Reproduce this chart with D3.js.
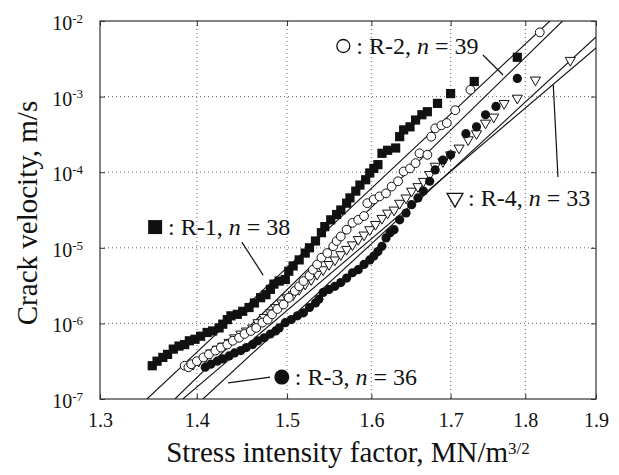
<!DOCTYPE html>
<html>
<head>
<meta charset="utf-8">
<script src="https://cdn.jsdelivr.net/npm/d3@7"></script>
<style>
body { margin: 0; background: #fff; }
text { font-family: "Liberation Serif", "Times New Roman", serif; fill: #111; }
</style>
</head>
<body>
<div class="featured"></div>
<script>
// stress intensity factor K (MN/m^3/2) and log10 of crack velocity (m/s)
var r1K = [1.353,1.358,1.364,1.369,1.375,1.381,1.387,1.392,1.398,1.404,1.411,1.417,1.424,1.428,1.433,1.437,1.444,1.450,1.457,1.463,1.470,1.476,1.481,1.485,1.491,1.498,1.502,1.507,1.514,1.521,1.526,1.533,1.540,1.544,1.551,1.558,1.563,1.570,1.574,1.581,1.586,1.593,1.598,1.603,1.608,1.613,1.620,1.630,1.635,1.640,1.648,1.655,1.663,1.670,1.683,1.700,1.731,1.789];
var r1LogV = [-6.56,-6.50,-6.45,-6.41,-6.34,-6.30,-6.28,-6.23,-6.21,-6.17,-6.12,-6.10,-6.06,-6.01,-5.95,-5.90,-5.88,-5.84,-5.79,-5.73,-5.66,-5.62,-5.55,-5.48,-5.44,-5.42,-5.31,-5.24,-5.16,-5.07,-5.00,-4.91,-4.80,-4.72,-4.63,-4.56,-4.50,-4.41,-4.34,-4.25,-4.17,-4.10,-4.01,-3.95,-3.90,-3.75,-3.71,-3.68,-3.53,-3.44,-3.40,-3.31,-3.24,-3.20,-3.09,-2.96,-2.80,-2.48];

var r2K = [1.387,1.391,1.394,1.400,1.407,1.413,1.420,1.426,1.433,1.439,1.446,1.452,1.459,1.465,1.472,1.478,1.483,1.489,1.496,1.502,1.509,1.514,1.519,1.526,1.530,1.535,1.540,1.547,1.554,1.558,1.563,1.570,1.577,1.584,1.591,1.595,1.603,1.610,1.618,1.625,1.633,1.640,1.648,1.655,1.660,1.670,1.675,1.680,1.688,1.695,1.706,1.726,1.820];
var r2LogV = [-6.56,-6.58,-6.54,-6.50,-6.45,-6.41,-6.36,-6.32,-6.28,-6.23,-6.19,-6.14,-6.10,-6.06,-5.99,-5.95,-5.88,-5.81,-5.75,-5.66,-5.57,-5.51,-5.44,-5.37,-5.29,-5.22,-5.13,-5.07,-4.98,-4.91,-4.85,-4.76,-4.67,-4.63,-4.58,-4.41,-4.36,-4.32,-4.28,-4.19,-4.12,-3.99,-3.95,-3.88,-3.75,-3.77,-3.53,-3.42,-3.38,-3.35,-3.18,-2.91,-2.15];

var r3K = [1.409,1.415,1.422,1.428,1.435,1.441,1.448,1.454,1.461,1.467,1.474,1.481,1.487,1.491,1.498,1.505,1.512,1.519,1.526,1.533,1.537,1.542,1.549,1.556,1.563,1.570,1.577,1.584,1.591,1.598,1.603,1.608,1.613,1.618,1.623,1.628,1.635,1.643,1.650,1.658,1.665,1.673,1.680,1.690,1.700,1.720,1.734,1.746,1.760,1.789];
var r3LogV = [-6.58,-6.54,-6.50,-6.47,-6.43,-6.39,-6.36,-6.32,-6.28,-6.23,-6.19,-6.14,-6.10,-6.06,-5.99,-5.95,-5.90,-5.86,-5.79,-5.73,-5.68,-5.59,-5.55,-5.51,-5.46,-5.40,-5.33,-5.29,-5.22,-5.16,-5.11,-5.05,-4.98,-4.87,-4.80,-4.76,-4.63,-4.54,-4.43,-4.34,-4.25,-4.12,-3.97,-3.84,-3.77,-3.49,-3.40,-3.24,-3.13,-2.76];

var r4K = [1.391,1.396,1.402,1.409,1.415,1.422,1.428,1.435,1.441,1.448,1.454,1.461,1.467,1.474,1.481,1.487,1.494,1.500,1.507,1.514,1.521,1.528,1.535,1.542,1.549,1.556,1.563,1.570,1.577,1.584,1.591,1.598,1.605,1.613,1.620,1.628,1.635,1.643,1.650,1.658,1.665,1.673,1.680,1.690,1.700,1.711,1.723,1.734,1.746,1.757,1.771,1.789,1.814,1.863];
var r4LogV = [-6.56,-6.54,-6.50,-6.45,-6.39,-6.34,-6.30,-6.25,-6.19,-6.14,-6.10,-6.06,-5.99,-5.92,-5.86,-5.79,-5.73,-5.66,-5.62,-5.55,-5.48,-5.42,-5.35,-5.29,-5.22,-5.16,-5.09,-5.02,-4.96,-4.89,-4.83,-4.76,-4.69,-4.61,-4.54,-4.50,-4.41,-4.34,-4.25,-4.19,-4.12,-4.03,-3.92,-3.86,-3.77,-3.68,-3.57,-3.49,-3.35,-3.27,-3.09,-3.02,-2.78,-2.52];

// fitted power-law lines: end points (K, v)
var fitNames  = ["R-1", "R-2", "R-3", "R-4"];
var fitN      = [38, 39, 36, 33];
var fitStartK = [1.3476, 1.3767, 1.4065, 1.3851];
var fitStartV = [1e-7, 1e-7, 1e-7, 1e-7];
var fitEndK   = [1.834, 1.852, 1.9, 1.9];
var fitEndV   = [1e-2, 1e-2, 6.14e-3, 4.39e-3];

// annotation anchors (data coords) and leader lines
var noteK  = [1.356, 1.566, 1.494, 1.7057];
var noteV  = [1.88e-5, 4.67e-3, 1.95e-7, 4.56e-5];
var leadK1 = [1.449, 1.7425, 1.4338, 1.8455];
var leadV1 = [1.19e-5, 3.55e-3, 1.63e-7, 8.64e-5];
var leadK2 = [1.4728, 1.7696, 1.4807, 1.8389];
var leadV2 = [4.36e-6, 1.93e-3, 1.95e-7, 1.42e-3];

var xTicks = [1.3, 1.4, 1.5, 1.6, 1.7, 1.8, 1.9];
var yTicks = [1e-7, 1e-6, 1e-5, 1e-4, 1e-3, 1e-2];

var W = 619, H = 475;
var pL = 100, pR = 596, pT = 21, pB = 399;

var svg = d3.select(".featured").append("svg").attr("width", W).attr("height", H);

var x = d3.scaleLog().domain([1.3, 1.9]).range([pL, pR]);
var y = d3.scaleLog().domain([1e-7, 1e-2]).range([pB, pT]);

svg.append("clipPath").attr("id", "plotclip").append("rect")
	.attr("x", pL).attr("y", pT).attr("width", pR - pL).attr("height", pB - pT);

// grid
svg.append("g").selectAll("line").data(xTicks.slice(1, -1)).enter().append("line")
	.attr("x1", function(d){ return x(d); }).attr("x2", function(d){ return x(d); })
	.attr("y1", pT).attr("y2", pB)
	.attr("stroke", "#666").attr("stroke-width", 1).attr("stroke-dasharray", "1,3");
svg.append("g").selectAll("line").data(yTicks.slice(1, -1)).enter().append("line")
	.attr("y1", function(d){ return y(d); }).attr("y2", function(d){ return y(d); })
	.attr("x1", pL).attr("x2", pR)
	.attr("stroke", "#666").attr("stroke-width", 1).attr("stroke-dasharray", "1,3");

// axes
var xAxis = d3.axisBottom(x).tickValues(xTicks).tickSize(-5).tickPadding(14).tickFormat(d3.format(".1f"));
var gx = svg.append("g").attr("transform", "translate(0," + pB + ")").call(xAxis);
gx.select(".domain").remove();
gx.selectAll("text").attr("font-size", 20).attr("font-family", "Liberation Serif").attr("fill", "#111");
gx.selectAll("line").attr("stroke", "#333");

var gxt = svg.append("g").attr("transform", "translate(0," + pT + ")")
	.call(d3.axisTop(x).tickValues(xTicks).tickSize(-5).tickFormat(""));
gxt.select(".domain").remove();
gxt.selectAll("line").attr("stroke", "#333");

var yAxis = d3.axisLeft(y).tickValues(yTicks).tickSize(-5).tickPadding(16).tickFormat(function(){ return ""; });
var gy = svg.append("g").attr("transform", "translate(" + pL + ",0)").call(yAxis);
gy.select(".domain").remove();
gy.selectAll("line").attr("stroke", "#333");
gy.selectAll(".tick text").each(function(d) {
	var t = d3.select(this).attr("font-size", 20).attr("font-family", "Liberation Serif").attr("fill", "#111").attr("x", -17).attr("dy", "0.42em");
	t.append("tspan").text("10");
	t.append("tspan").attr("dy", "-0.55em").attr("font-size", 13).text(String(Math.round(Math.log10(d))));
});

var gyr = svg.append("g").attr("transform", "translate(" + pR + ",0)")
	.call(d3.axisRight(y).tickValues(yTicks).tickSize(-5).tickFormat(""));
gyr.select(".domain").remove();
gyr.selectAll("line").attr("stroke", "#333");

svg.append("rect").attr("x", pL).attr("y", pT).attr("width", pR - pL).attr("height", pB - pT)
	.attr("fill", "none").attr("stroke", "#333").attr("stroke-width", 1.2);

// fitted lines
var plot = svg.append("g").attr("clip-path", "url(#plotclip)");
var lineFunction = d3.line().x(function(d){ return x(d[0]); }).y(function(d){ return y(d[1]); });
fitNames.forEach(function(name, i) {
	plot.append("path")
		.attr("d", lineFunction([[fitStartK[i], fitStartV[i]], [fitEndK[i], fitEndV[i]]]))
		.attr("stroke", "#111").attr("stroke-width", 1.1).attr("fill", "none");
});

function pts(ks, lv) {
	return ks.map(function(k, i){ return { k: k, v: Math.pow(10, lv[i]) }; });
}

// R-4 open triangles
plot.selectAll(".r4").data(pts(r4K, r4LogV)).enter().append("path").attr("class", "r4")
	.attr("d", d3.symbol().type(d3.symbolTriangle).size(44))
	.attr("transform", function(d){ return "translate(" + x(d.k) + "," + y(d.v) + ") rotate(180)"; })
	.attr("fill", "#fff").attr("stroke", "#111").attr("stroke-width", 1);
// R-3 filled circles
plot.selectAll(".r3").data(pts(r3K, r3LogV)).enter().append("circle").attr("class", "r3")
	.attr("cx", function(d){ return x(d.k); }).attr("cy", function(d){ return y(d.v); })
	.attr("r", 4.6).attr("fill", "#111");
// R-2 open circles
plot.selectAll(".r2").data(pts(r2K, r2LogV)).enter().append("circle").attr("class", "r2")
	.attr("cx", function(d){ return x(d.k); }).attr("cy", function(d){ return y(d.v); })
	.attr("r", 4.4).attr("fill", "#fff").attr("stroke", "#111").attr("stroke-width", 1);
// R-1 filled squares
plot.selectAll(".r1").data(pts(r1K, r1LogV)).enter().append("rect").attr("class", "r1")
	.attr("x", function(d){ return x(d.k) - 4.6; }).attr("y", function(d){ return y(d.v) - 4.6; })
	.attr("width", 9.2).attr("height", 9.2).attr("fill", "#111");

// leader lines
fitNames.forEach(function(name, i) {
	svg.append("line")
		.attr("x1", x(leadK1[i])).attr("y1", y(leadV1[i]))
		.attr("x2", x(leadK2[i])).attr("y2", y(leadV2[i]))
		.attr("stroke", "#111").attr("stroke-width", 1.2);
});

// annotations
var markerTypes = ["square", "open", "filled", "tri"];
fitNames.forEach(function(name, i) {
	var cx = x(noteK[i]), cy = y(noteV[i]);
	var m = markerTypes[i];
	if (m === "square") {
		svg.append("rect").attr("x", cx - 7).attr("y", cy - 7).attr("width", 14).attr("height", 14).attr("fill", "#111");
	} else if (m === "open") {
		svg.append("circle").attr("cx", cx).attr("cy", cy).attr("r", 6.5).attr("fill", "#fff").attr("stroke", "#111").attr("stroke-width", 1.3);
	} else if (m === "filled") {
		svg.append("circle").attr("cx", cx).attr("cy", cy).attr("r", 7.5).attr("fill", "#111");
	} else {
		svg.append("path").attr("d", d3.symbol().type(d3.symbolTriangle).size(110))
			.attr("transform", "translate(" + cx + "," + cy + ") rotate(180)")
			.attr("fill", "#fff").attr("stroke", "#111").attr("stroke-width", 1.3);
	}
	var t = svg.append("text").attr("x", cx + 13).attr("y", cy + 8).attr("font-size", 24);
	t.append("tspan").text(": " + name + ", ");
	t.append("tspan").attr("font-style", "italic").text("n");
	t.append("tspan").text(" = " + fitN[i]);
});

// axis titles
var xt = svg.append("text").attr("x", 348).attr("y", 462).attr("text-anchor", "middle").attr("font-size", 29);
xt.append("tspan").text("Stress intensity factor, MN/m");
xt.append("tspan").attr("dy", "-0.5em").attr("font-size", 17).text("3/2");

svg.append("text").attr("transform", "translate(37,213) rotate(-90)")
	.attr("text-anchor", "middle").attr("font-size", 29).text("Crack velocity, m/s");
</script>
</body>
</html>
